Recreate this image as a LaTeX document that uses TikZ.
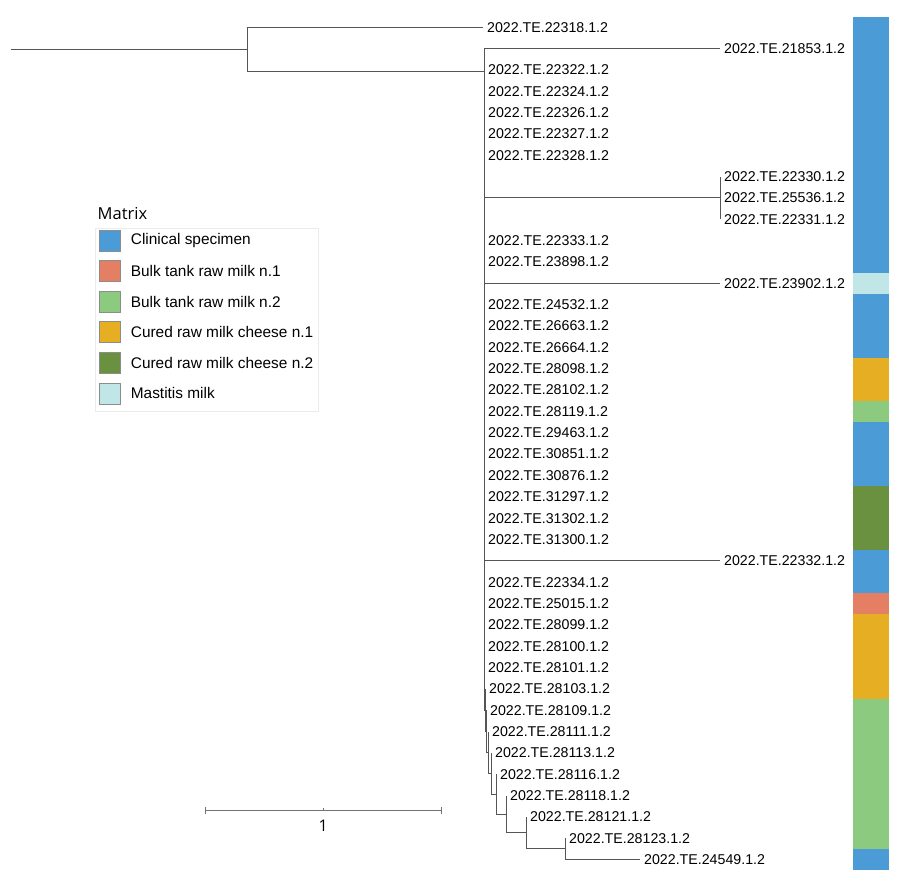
\documentclass[tikz,border=0pt]{standalone}
\usepackage{fontspec}
\setmainfont{Liberation Sans}
\newfontfamily\osans{Open Sans}
\definecolor{clin}{RGB}{74,155,214}
\definecolor{bulkA}{RGB}{229,127,100}
\definecolor{bulkB}{RGB}{140,202,128}
\definecolor{cheeseA}{RGB}{230,174,35}
\definecolor{cheeseB}{RGB}{106,145,63}
\definecolor{mast}{RGB}{192,230,232}
\definecolor{treeline}{RGB}{85,85,85}
\tikzset{
 branch/.style={draw=treeline, line width=0.9pt},
 tip/.style={anchor=west, inner xsep=4pt, inner ysep=0pt, font=\fontsize{14.2}{16}\selectfont, text=black},
 swatch/.style={draw=black!45, line width=0.6pt, minimum size=21pt, inner sep=0pt},
 legtext/.style={anchor=west, inner sep=0pt, font=\fontsize{15.4}{17}\selectfont},
 scalebar/.style={draw=black!55, line width=0.9pt},
}
\begin{document}
\begin{tikzpicture}[x=1pt,y=-1pt]
\useasboundingbox (0,0) rectangle (900,884);
% internal nodes
\coordinate (R) at (10.7,49.5);
\coordinate (A) at (247,49.5);
\coordinate (M) at (484,71.5);
\coordinate (C) at (720,197.4);
\coordinate (N1) at (485,710.09);
\coordinate (N2) at (486,731.34);
\coordinate (N3) at (488,752.5);
\coordinate (N4) at (491,773.53);
\coordinate (N5) at (496,794.2);
\coordinate (N6) at (506,814.21);
\coordinate (N7) at (526,832.885);
\coordinate (N8) at (565,848.89);
\draw[branch] (R) -- (A);
\draw[branch] (A) |- (M);
\draw[branch] (M) |- (C);
\draw[branch] (M) |- (N1);
\draw[branch] (N1) |- (N2);
\draw[branch] (N2) |- (N3);
\draw[branch] (N3) |- (N4);
\draw[branch] (N4) |- (N5);
\draw[branch] (N5) |- (N6);
\draw[branch] (N6) |- (N7);
\draw[branch] (N7) |- (N8);
% tips
\foreach \r/\lab/\x/\p in {1/22318/483/A, 2/21853/720/M, 3/22322/484/M, 4/22324/484/M,
  5/22326/484/M, 6/22327/484/M, 7/22328/484/M, 8/22330/720/C, 9/25536/720/C, 10/22331/720/C,
  11/22333/484/M, 12/23898/484/M, 13/23902/720/M, 14/24532/484/M, 15/26663/484/M,
  16/26664/484/M, 17/28098/484/M, 18/28102/484/M, 19/28119/484/M, 20/29463/484/M,
  21/30851/484/M, 22/30876/484/M, 23/31297/484/M, 24/31302/484/M, 25/31300/484/M,
  26/22332/720/M, 27/22334/484/M, 28/25015/484/M, 29/28099/484/M, 30/28100/484/M,
  31/28101/484/M, 32/28103/485/N1, 33/28109/486/N2, 34/28111/488/N3, 35/28113/491/N4,
  36/28116/496/N5, 37/28118/506/N6, 38/28121/526/N7, 39/28123/565/N8, 40/24549/640/N8}{
  \node[tip] (t\r) at (\x,{27.3+(\r-1)*21.34}) {2022.TE.\lab.1.2};
  \draw[branch] (\p) |- (t\r.west);
}
% colour strip
\foreach \a/\b/\c in {1/12/clin, 13/13/mast, 14/16/clin, 17/18/cheeseA, 19/19/bulkB,
  20/22/clin, 23/25/cheeseB, 26/27/clin, 28/28/bulkA, 29/32/cheeseA, 33/39/bulkB, 40/40/clin}{
  \fill[\c] (853.3,{16.6+(\a-1)*21.34}) rectangle (889.3,{16.6+\b*21.34});
}
% legend
\draw[black!8, line width=0.8pt] (95,228) rectangle (318,411);
\node[anchor=west, inner sep=0pt, font=\osans\fontsize{16.5}{18}\selectfont] (legtitle) at (97.5,213.3) {Matrix};
\foreach \i/\c/\t in {0/clin/Clinical specimen, 1/bulkA/Bulk tank raw milk n.1,
  2/bulkB/Bulk tank raw milk n.2, 3/cheeseA/Cured raw milk cheese n.1,
  4/cheeseB/Cured raw milk cheese n.2, 5/mast/Mastitis milk}{
  \node[swatch, fill=\c] (sw\i) at (110,{240.3+\i*30.62}) {};
  \node[legtext] (lt\i) at (130.7,{240.3+\i*30.62}) {\t};
}
% scale bar
\coordinate (sbL) at (205,810.7);
\coordinate (sbR) at (441.7,810.7);
\coordinate (sbM) at (323.3,810.7);
\draw[scalebar] (sbL) -- (sbR);
\draw[scalebar] ([yshift=3.5pt]sbL) -- ([yshift=-3.5pt]sbL);
\draw[scalebar] ([yshift=3.5pt]sbR) -- ([yshift=-3.5pt]sbR);
\draw[scalebar] (sbM) -- ([yshift=3pt]sbM);
\node[inner sep=0pt, font=\osans\fontsize{16}{18}\selectfont] (sblab) at (323.3,826) {1};
\end{tikzpicture}
\end{document}
